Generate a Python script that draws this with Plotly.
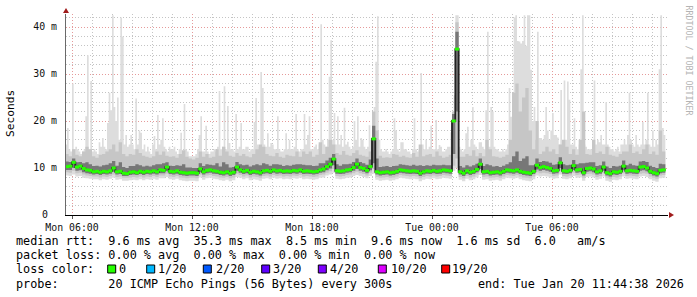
import plotly.graph_objects as go
import pandas as pd

# ---------------- data (ms) ----------------
# percentile series: 10-minute bins starting Mon 05:40
start_time = "2026-01-19 05:40"
step = "10min"
# max ping series: 5-minute steps starting Mon 05:40
max_step = "5min"

rtt_median = [
    10.3, 10.4,
    11.2, 10.2, 10.4, 9.9, 9.6, 9.5,
    9.2, 9.3, 9.1, 9.3, 9.2, 9.4,
    10.0, 9.2, 9.3, 8.9, 8.8, 9.1,
    9.2, 9.0, 9.3, 9.1, 9.3, 9.2,
    9.4, 9.2, 9.6, 9.5, 10.2, 9.3,
    9.2, 9.4, 9.1, 9.0, 8.9, 9.0,
    9.0, 8.9, 9.8, 9.2, 9.5, 9.6,
    9.4, 9.3, 9.1, 9.0, 9.2, 8.9,
    9.1, 10.2, 9.6, 9.3, 9.5, 9.1,
    9.3, 9.2, 9.0, 9.4, 9.5, 9.3,
    9.6, 9.4, 9.5, 9.3, 9.4, 9.3,
    9.5, 9.4, 9.6, 9.3, 9.4, 9.3,
    9.2, 9.3, 9.6, 9.8, 10.3, 10.8,
    11.9, 9.4, 9.3, 9.4, 9.6, 9.7,
    10.1, 10.8, 10.1, 9.9, 9.5, 10.3,
    16.2, 9.2, 9.0, 9.1, 9.2, 9.0,
    9.1, 9.3, 9.6, 9.5, 9.4, 9.3,
    9.4, 9.3, 8.9, 9.2, 9.4, 9.3,
    9.5, 9.3, 9.4, 9.6, 9.5, 9.4,
    20.0, 35.3, 9.2, 8.9, 9.4, 9.1,
    9.3, 9.7, 10.8, 9.2, 9.3, 9.0,
    9.1, 9.2, 9.0, 9.3, 9.6, 9.5,
    9.4, 9.6, 9.3, 9.1, 9.0, 8.9,
    9.3, 10.6, 10.1, 10.3, 10.1, 9.9,
    9.4, 9.5, 11.1, 9.4, 9.3, 9.5,
    10.5, 9.6, 9.7, 9.0, 9.9, 10.0,
    9.8, 9.2, 9.4, 10.2, 9.0, 8.8,
    9.2, 9.1, 9.3, 10.4, 9.4, 9.5,
    9.4, 9.3, 10.2, 10.3, 10.0, 9.3,
    9.0, 8.8, 9.5, 9.6,
]

rtt_min = [
    8.4, 8.3,
    8.6, 8.2, 8.3, 7.9, 7.8, 7.7,
    7.6, 7.6, 7.4, 7.6, 7.5, 7.7,
    7.9, 7.5, 7.6, 7.3, 7.3, 7.4,
    7.5, 7.4, 7.6, 7.4, 7.6, 7.5,
    7.7, 7.5, 7.8, 7.8, 8.1, 7.6,
    7.5, 7.7, 7.4, 7.3, 7.2, 7.3,
    7.3, 7.2, 8.0, 7.5, 7.8, 7.9,
    7.7, 7.6, 7.4, 7.3, 7.5, 7.2,
    7.4, 8.1, 7.9, 7.6, 7.8, 7.4,
    7.6, 7.5, 7.3, 7.7, 7.8, 7.6,
    7.9, 7.7, 7.8, 7.6, 7.7, 7.6,
    7.8, 7.7, 7.9, 7.6, 7.7, 7.6,
    7.5, 7.6, 7.9, 8.0, 8.4, 8.6,
    9.0, 7.7, 7.6, 7.7, 7.9, 8.0,
    8.3, 8.5, 8.3, 8.1, 7.8, 8.3,
    8.8, 7.5, 7.3, 7.4, 7.5, 7.3,
    7.4, 7.6, 7.9, 7.8, 7.7, 7.6,
    7.7, 7.6, 7.2, 7.5, 7.7, 7.6,
    7.8, 7.6, 7.7, 7.9, 7.8, 7.7,
    9.4, 10.0, 7.5, 7.2, 7.7, 7.4,
    7.6, 8.0, 8.5, 7.5, 7.6, 7.3,
    7.4, 7.5, 7.3, 7.6, 7.9, 7.8,
    7.7, 7.9, 7.6, 7.4, 7.3, 7.2,
    7.6, 8.4, 8.2, 8.3, 8.2, 8.0,
    7.7, 7.8, 8.6, 7.7, 7.6, 7.8,
    8.3, 7.9, 8.0, 7.3, 8.1, 8.2,
    8.0, 7.5, 7.7, 8.2, 7.3, 7.1,
    7.5, 7.4, 7.6, 8.2, 7.7, 7.8,
    7.7, 7.6, 8.2, 8.3, 8.1, 7.6,
    7.3, 7.1, 7.8, 7.9,
]

rtt_p10 = [
    9.1, 9.0,
    9.4, 8.9, 9.0, 8.6, 8.4, 8.3,
    8.2, 8.2, 8.0, 8.2, 8.1, 8.3,
    8.6, 8.1, 8.2, 7.9, 7.9, 8.0,
    8.1, 8.0, 8.2, 8.0, 8.2, 8.1,
    8.3, 8.1, 8.4, 8.4, 8.8, 8.2,
    8.1, 8.3, 8.0, 7.9, 7.8, 7.9,
    7.9, 7.8, 8.6, 8.1, 8.4, 8.5,
    8.3, 8.2, 8.0, 7.9, 8.1, 7.8,
    8.0, 8.8, 8.5, 8.2, 8.4, 8.0,
    8.2, 8.1, 7.9, 8.3, 8.4, 8.2,
    8.5, 8.3, 8.4, 8.2, 8.3, 8.2,
    8.4, 8.3, 8.5, 8.2, 8.3, 8.2,
    8.1, 8.2, 8.5, 8.6, 9.0, 9.3,
    9.8, 8.3, 8.2, 8.3, 8.5, 8.6,
    8.9, 9.2, 8.9, 8.7, 8.4, 9.0,
    9.8, 8.1, 7.9, 8.0, 8.1, 7.9,
    8.0, 8.2, 8.5, 8.4, 8.3, 8.2,
    8.3, 8.2, 7.8, 8.1, 8.3, 8.2,
    8.4, 8.2, 8.3, 8.5, 8.4, 8.3,
    10.5, 12.0, 8.1, 7.8, 8.3, 8.0,
    8.2, 8.6, 9.2, 8.1, 8.2, 7.9,
    8.0, 8.1, 7.9, 8.2, 8.5, 8.4,
    8.3, 8.5, 8.2, 8.0, 7.9, 7.8,
    8.2, 9.1, 8.9, 9.0, 8.9, 8.7,
    8.3, 8.4, 9.4, 8.3, 8.2, 8.4,
    9.0, 8.5, 8.6, 7.9, 8.7, 8.8,
    8.6, 8.1, 8.3, 8.9, 7.9, 7.7,
    8.1, 8.0, 8.2, 8.9, 8.3, 8.4,
    8.3, 8.2, 8.8, 8.9, 8.8, 8.2,
    7.9, 7.7, 8.4, 8.5,
]

rtt_p25 = [
    9.6, 9.6,
    10.0, 9.4, 9.5, 9.1, 8.9, 8.8,
    8.6, 8.7, 8.5, 8.7, 8.6, 8.8,
    9.2, 8.6, 8.7, 8.3, 8.3, 8.5,
    8.6, 8.5, 8.7, 8.5, 8.7, 8.6,
    8.8, 8.6, 8.9, 8.9, 9.4, 8.7,
    8.6, 8.8, 8.5, 8.4, 8.3, 8.4,
    8.4, 8.3, 9.1, 8.6, 8.9, 9.0,
    8.8, 8.7, 8.5, 8.4, 8.6, 8.3,
    8.5, 9.4, 9.0, 8.7, 8.9, 8.5,
    8.7, 8.6, 8.4, 8.8, 8.9, 8.7,
    9.0, 8.8, 8.9, 8.7, 8.8, 8.7,
    8.9, 8.8, 9.0, 8.7, 8.8, 8.7,
    8.6, 8.7, 9.0, 9.1, 9.5, 9.9,
    10.6, 8.8, 8.7, 8.8, 9.0, 9.1,
    9.4, 9.8, 9.4, 9.2, 8.9, 9.5,
    11.0, 8.6, 8.4, 8.5, 8.6, 8.4,
    8.5, 8.7, 9.0, 8.9, 8.8, 8.7,
    8.8, 8.7, 8.3, 8.6, 8.8, 8.7,
    8.9, 8.7, 8.8, 9.0, 8.9, 8.8,
    13.0, 22.0, 8.6, 8.3, 8.8, 8.5,
    8.7, 9.1, 9.8, 8.6, 8.7, 8.4,
    8.5, 8.6, 8.4, 8.7, 9.0, 8.9,
    8.8, 9.0, 8.7, 8.5, 8.4, 8.3,
    8.7, 9.7, 9.4, 9.6, 9.4, 9.2,
    8.8, 8.9, 10.0, 8.8, 8.7, 8.9,
    9.6, 9.0, 9.1, 8.4, 9.2, 9.3,
    9.1, 8.6, 8.8, 9.4, 8.4, 8.2,
    8.6, 8.5, 8.7, 9.5, 8.8, 8.9,
    8.8, 8.7, 9.4, 9.5, 9.3, 8.7,
    8.4, 8.2, 8.9, 9.0,
]

rtt_p75 = [
    11.4, 11.3,
    12.0, 11.2, 11.3, 11.0, 11.2, 10.8,
    10.4, 10.5, 10.3, 10.6, 10.7, 11.0,
    11.5, 10.5, 11.2, 10.2, 10.0, 10.4,
    10.4, 10.8, 10.6, 10.3, 10.5, 10.3,
    10.6, 10.8, 10.8, 11.0, 11.2, 10.5,
    10.4, 10.6, 10.5, 10.8, 10.1, 10.1,
    10.0, 10.0, 11.0, 10.4, 10.8, 10.7,
    10.6, 11.0, 10.3, 11.2, 10.8, 10.1,
    10.2, 11.3, 10.8, 10.6, 10.7, 10.3,
    10.6, 10.8, 10.6, 11.0, 10.8, 10.5,
    10.8, 10.8, 10.7, 10.4, 10.6, 10.5,
    10.7, 10.8, 10.8, 10.7, 10.6, 10.6,
    10.4, 10.5, 11.0, 11.0, 11.6, 12.2,
    13.0, 10.8, 10.5, 10.8, 10.8, 10.9,
    11.3, 12.0, 11.3, 11.0, 10.7, 11.8,
    19.0, 12.0, 10.2, 10.3, 10.4, 10.2,
    10.4, 10.5, 10.8, 10.7, 10.6, 10.5,
    10.7, 10.5, 10.6, 10.4, 10.6, 10.5,
    10.7, 10.6, 10.6, 10.7, 10.6, 10.6,
    21.5, 39.0, 10.4, 10.1, 10.6, 10.3,
    10.6, 10.9, 12.0, 10.4, 10.8, 10.6,
    10.3, 10.4, 10.2, 10.5, 10.8, 11.2,
    12.5, 13.5, 11.5, 12.0, 12.5, 10.6,
    10.6, 12.0, 11.3, 11.5, 11.4, 11.1,
    10.7, 10.8, 12.3, 10.8, 10.6, 10.7,
    11.7, 10.8, 11.0, 11.0, 11.1, 11.2,
    11.2, 10.4, 10.6, 11.4, 10.3, 10.0,
    10.4, 10.3, 10.5, 11.6, 10.6, 10.9,
    10.6, 10.5, 11.4, 11.5, 11.3, 10.5,
    10.2, 10.0, 10.9, 10.8,
]

rtt_p90 = [
    13.0, 12.5,
    14.0, 12.8, 12.5, 13.5, 14.5, 14.0,
    12.5, 12.2, 12.8, 13.0, 13.5, 14.0,
    15.0, 13.5, 15.5, 13.0, 12.5, 13.0,
    12.8, 14.0, 13.2, 12.6, 12.4, 12.2,
    12.5, 13.5, 12.8, 13.5, 12.6, 12.4,
    12.5, 12.2, 13.0, 13.8, 12.4, 12.0,
    11.8, 12.2, 13.5, 12.4, 13.0, 12.2,
    12.4, 14.0, 12.6, 14.5, 13.5, 12.6,
    12.4, 13.2, 12.6, 13.0, 12.5, 12.3,
    13.0, 14.0, 15.0, 14.5, 13.0, 12.6,
    12.5, 13.2, 12.4, 12.2, 12.8, 12.6,
    12.5, 13.5, 12.4, 13.5, 13.0, 13.5,
    12.4, 12.8, 15.5, 13.0, 14.5, 16.0,
    15.0, 13.2, 12.8, 13.6, 12.8, 12.6,
    13.2, 13.8, 12.8, 12.6, 12.4, 13.5,
    22.0, 18.0, 12.6, 12.2, 12.3, 12.2,
    13.0, 12.8, 12.4, 12.6, 12.3, 12.2,
    13.2, 12.4, 15.0, 12.5, 12.8, 13.0,
    12.4, 13.5, 12.6, 12.2, 12.4, 12.8,
    22.0, 41.0, 12.4, 12.4, 13.0, 12.6,
    13.8, 12.5, 13.2, 12.5, 16.0, 14.0,
    12.5, 12.4, 12.2, 12.4, 12.8, 16.0,
    26.0, 28.0, 22.0, 25.0, 27.0, 18.0,
    14.0, 20.0, 13.0, 13.5, 14.5, 13.5,
    14.0, 13.0, 15.0, 16.0, 14.5, 13.0,
    14.0, 12.8, 16.0, 22.0, 13.0, 12.8,
    16.0, 13.2, 13.5, 13.0, 14.5, 12.8,
    12.6, 12.4, 13.0, 13.5, 13.5, 15.0,
    13.2, 13.5, 13.0, 14.0, 15.0, 13.0,
    13.5, 12.8, 18.0, 13.5,
]

# 5-minute maximum ping (light grey smoke tops)
rtt_max = [
    15.0, 18.5, 14.0, 13.5,
    28.0, 14.0, 14.5, 14.0, 13.5, 13.0, 13.5, 14.0, 21.0, 34.0, 14.0, 28.5,
    13.5, 14.0, 13.5, 13.0, 15.5, 14.5, 16.4, 14.5, 14.0, 19.6, 26.0, 22.3,
    42.5, 23.0, 20.0, 25.0, 16.0, 42.0, 38.0, 15.0, 17.0, 14.5, 15.0, 17.0,
    15.0, 14.0, 24.8, 15.0, 18.0, 17.5, 14.0, 15.0, 13.5, 14.5, 13.5, 13.0,
    15.0, 16.8, 14.0, 21.3, 15.0, 16.0, 20.6, 14.5, 14.0, 13.5, 14.5, 14.0,
    14.0, 14.5, 13.5, 13.0, 14.0, 17.5, 13.5, 23.6, 14.0, 13.5, 12.5, 12.5,
    12.5, 12.5, 13.0, 14.0, 17.0, 21.0, 13.5, 13.5, 19.0, 13.5, 13.0, 13.5,
    13.5, 14.0, 13.5, 14.5, 26.4, 14.0, 14.5, 27.4, 14.0, 23.2, 15.3, 14.0,
    14.0, 13.5, 21.5, 14.0, 14.5, 19.6, 14.0, 14.0, 14.5, 14.5, 13.5, 14.0,
    14.0, 19.8, 24.9, 15.0, 14.5, 30.4, 27.0, 15.0, 14.5, 17.4, 14.5, 15.3,
    15.0, 14.0, 14.0, 21.0, 14.0, 13.5, 13.5, 14.0, 17.4, 14.0, 16.0, 14.0,
    14.0, 14.5, 21.5, 14.0, 13.5, 14.0, 14.0, 21.5, 15.0, 17.0, 21.0, 14.0,
    14.0, 14.5, 15.0, 14.0, 15.0, 40.6, 16.0, 15.0, 14.5, 16.0, 29.4, 37.2,
    16.0, 21.7, 15.0, 21.0, 15.0, 17.0, 14.5, 22.8, 15.0, 15.6, 14.5, 14.0,
    14.5, 20.0, 16.0, 21.0, 14.5, 16.4, 16.0, 14.5, 14.0, 14.5, 19.1, 16.0,
    20.0, 23.0, 32.6, 42.3, 16.0, 14.0, 13.5, 13.5, 14.0, 13.5, 13.0, 13.5,
    14.0, 20.6, 18.0, 14.0, 13.5, 15.5, 15.5, 14.0, 14.0, 13.5, 13.5, 13.0,
    14.0, 20.6, 14.0, 13.5, 14.0, 30.2, 15.0, 14.0, 16.0, 14.0, 14.5, 19.0,
    14.0, 14.0, 20.2, 14.0, 14.9, 14.5, 13.5, 13.5, 14.0, 14.5, 14.5, 17.6,
    16.0, 25.5, 42.5, 42.5, 14.5, 14.0, 13.5, 14.0, 17.4, 18.8, 14.5, 16.0,
    23.0, 15.0, 14.5, 14.0, 15.5, 15.5, 14.5, 14.0, 22.3, 39.0, 14.5, 23.0,
    22.0, 14.5, 14.0, 14.0, 13.5, 13.5, 14.0, 13.5, 14.0, 15.0, 27.0, 20.9,
    20.9, 42.0, 42.5, 37.0, 36.9, 36.5, 37.0, 42.5, 36.0, 42.5, 42.5, 30.9,
    20.0, 23.0, 16.0, 39.0, 16.4, 16.4, 16.0, 17.0, 23.0, 18.0, 16.0, 18.0,
    21.7, 17.0, 17.0, 16.5, 15.0, 26.6, 15.0, 28.6, 16.0, 28.4, 24.5, 15.0,
    15.0, 20.6, 14.5, 14.0, 15.0, 31.0, 42.5, 15.0, 14.5, 14.0, 14.0, 14.0,
    15.0, 28.6, 15.0, 16.0, 15.5, 17.0, 15.0, 15.0, 24.0, 15.0, 14.5, 14.0,
    14.0, 13.5, 14.0, 14.5, 13.5, 15.0, 15.0, 16.0, 15.0, 17.0, 26.0, 16.0,
    15.0, 14.5, 17.0, 15.0, 14.5, 15.0, 19.8, 15.0, 16.0, 26.0, 15.0, 14.5,
    18.0, 14.5, 16.0, 15.0, 31.0, 42.5, 18.5, 17.0,
]

y_tick_values = [0, 10, 20, 30, 40]
y_tick_labels = ["0\u00a0<span style='font-size:5px'>\u00a0</span>", "10 m", "20 m", "30 m", "40 m"]

legend_line1 = "median rtt:  9.6 ms avg  35.3 ms max  8.5 ms min  9.6 ms now  1.6 ms sd  6.0   am/s"
legend_line2 = "packet loss: 0.00 % avg  0.00 % max  0.00 % min  0.00 % now"
legend_line3 = "loss color:"
legend_line4 = "probe:       20 ICMP Echo Pings (56 Bytes) every 300s"
legend_end = "end: Tue Jan 20 11:44:38 2026"
loss_labels = ["0", "1/20", "2/20", "3/20", "4/20", "10/20", "19/20"]
loss_colors = ["#26ff00", "#00b8ff", "#0059ff", "#5e00ff", "#7e00ff", "#dd00ff", "#ff0000"]

# ---------------- figure ----------------
W, H = 697, 297
L, R, T, B = 66, 668, 14, 215   # plot area in pixels


def px(xp, yp):
    return (xp - L) / (R - L), (B - yp) / (B - T)


n = len(rtt_median)
times = pd.date_range(start_time, periods=n + 1, freq=step)
mid_times = times[:-1] + pd.Timedelta(minutes=5)
max_times = pd.date_range(start_time, periods=len(rtt_max) + 1, freq=max_step)


def closed(v):
    return list(v) + [v[-1]]


fig = go.Figure()


def band(xlo, lo, xhi, hi, color):
    fig.add_trace(go.Scatter(x=xlo, y=closed(lo), mode="lines",
                             line=dict(width=0, shape="hv"), hoverinfo="skip",
                             showlegend=False))
    fig.add_trace(go.Scatter(x=xhi, y=closed(hi), mode="lines",
                             line=dict(width=0, shape="hv"), fill="tonexty",
                             fillcolor=color, hoverinfo="skip", showlegend=False))


band(times, rtt_min, max_times, rtt_max, "#dddddd")
band(times, rtt_p10, times, rtt_p90, "#c6c6c6")
band(times, rtt_p25, times, rtt_p75, "#777777")

fig.add_trace(go.Scatter(x=times, y=closed(rtt_median), mode="lines",
                         line=dict(color="#222222", width=1.8, shape="hv"),
                         hoverinfo="skip", showlegend=False))
fig.add_trace(go.Scatter(x=mid_times, y=rtt_median, mode="markers",
                         marker=dict(symbol="line-ew", size=3.0, color="#26ff00",
                                     line=dict(color="#26ff00", width=3.0)),
                         hoverinfo="skip", showlegend=False))

mono = "DejaVu Sans Mono"
grid_dash = "1px,2px"

fig.update_layout(
    width=W, height=H,
    margin=dict(l=L, r=W - R, t=T, b=H - B, pad=0),
    paper_bgcolor="white", plot_bgcolor="white",
    font=dict(family=mono, size=10, color="#000000"),
    showlegend=False,
    xaxis=dict(
        type="date",
        range=["2026-01-19 05:42", "2026-01-20 11:48"],
        tick0="2026-01-19 00:00", dtick=6 * 3600000,
        tickformat="%a %H:%M",
        tickfont=dict(family=mono, size=9.9, color="#111111"),
        showgrid=True, gridcolor="#e59a9a", griddash=grid_dash, gridwidth=1,
        ticks="outside", ticklen=3, tickcolor="#555555",
        minor=dict(dtick=3600000, showgrid=True, gridcolor="#c4c4c4",
                   griddash=grid_dash, ticks="outside", ticklen=2, tickcolor="#aaaaaa"),
        showline=True, linecolor="#000000", linewidth=1,
        zeroline=False, fixedrange=True,
    ),
    yaxis=dict(
        range=[0, (B - T) / 4.7],
        tickmode="array", tickvals=y_tick_values, ticktext=y_tick_labels,
        tickfont=dict(family=mono, size=9.9, color="#111111"),
        showgrid=True, gridcolor="#e59a9a", griddash=grid_dash, gridwidth=1,
        minor=dict(tickmode="linear", tick0=0, dtick=2, showgrid=True,
                   gridcolor="#c4c4c4", griddash=grid_dash),
        ticks="", ticklabelstandoff=6,
        showline=True, linecolor="#6a6a6a", linewidth=1,
        zeroline=False, fixedrange=True,
    ),
)

arrow_color = "#a01c1c"
fig.add_shape(type="path", xref="paper", yref="paper", xsizemode="pixel", ysizemode="pixel",
              xanchor=1, yanchor=0, path="M 1,3 L 6,0 L 1,-3 Z",
              fillcolor=arrow_color, line=dict(width=0))
fig.add_shape(type="path", xref="paper", yref="paper", xsizemode="pixel", ysizemode="pixel",
              xanchor=0, yanchor=1, path="M -3,1 L 3,1 L 0,6 Z",
              fillcolor=arrow_color, line=dict(width=0))

ann = []


def text_at(xp, yp, s, size=11.8, color="#000000", xanchor="left", angle=0):
    x, y = px(xp, yp)
    ann.append(dict(x=x, y=y, xref="paper", yref="paper", text=s.replace(" ", "\u00a0"),
                    showarrow=False, xanchor=xanchor, yanchor="middle",
                    font=dict(family=mono, size=size, color=color),
                    borderpad=0, borderwidth=0, textangle=angle))


text_at(16, 241, legend_line1)
text_at(16, 255, legend_line2)
text_at(16, 269, legend_line3)
text_at(16, 283.5, legend_line4)
text_at(478, 283.5, legend_end)

sq_left = [107.7, 146.7, 203.3, 261.7, 318.3, 378.3, 441.7]
lab_left = [119.3, 158.0, 215.5, 273.0, 329.5, 390.5, 452.0]
for sx, lx, lab, col in zip(sq_left, lab_left, loss_labels, loss_colors):
    x0, y0 = px(sx, 273)
    x1, y1 = px(sx + 8, 265)
    fig.add_shape(type="rect", xref="paper", yref="paper", x0=x0, y0=y0, x1=x1, y1=y1,
                  fillcolor=col, line=dict(color="#000000", width=1))
    text_at(lx, 269, lab)

text_at(11, 114, "Seconds", size=11.2, xanchor="center", angle=-90)
text_at(688.5, 60, "RRDTOOL / TOBI OETIKER", size=8.3, color="#b4b4b4",
        xanchor="center", angle=90)

fig.update_layout(annotations=ann)
fig.write_html("out.html")
